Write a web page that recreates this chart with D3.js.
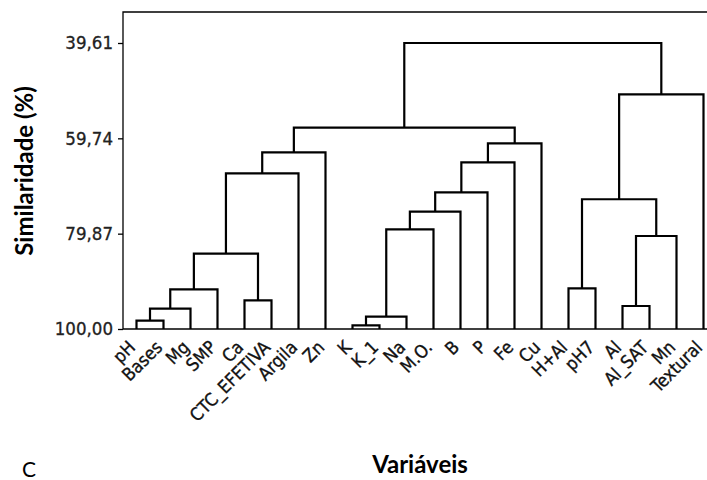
<!DOCTYPE html>
<html>
<head>
<meta charset="utf-8">
<script src="https://cdn.jsdelivr.net/npm/d3@7"></script>
<style>
  body { margin: 0; background: #fff; }
  svg { display: block; }
</style>
</head>
<body>
<div id="chart"></div>
<script>
// leaves of the dendrogram, left to right
const variables = ["pH", "Bases", "Mg", "SMP", "Ca", "CTC_EFETIVA", "Argila", "Zn",
  "K", "K_1", "Na", "M.O.", "B", "P", "Fe", "Cu",
  "H+Al", "pH7", "Al", "Al_SAT", "Mn", "Textural"];

// merge steps: [node a, node b, similarity %]; node ids >= 22 are earlier merges (22 + step)
const merges = [
  [8, 9, 99.22],    // 22
  [0, 1, 98.25],    // 23
  [22, 10, 97.40],  // 24
  [23, 2, 95.71],   // 25
  [18, 19, 95.14],  // 26
  [4, 5, 93.94],    // 27
  [25, 3, 91.62],   // 28
  [16, 17, 91.41],  // 29
  [28, 27, 84.10],  // 30
  [26, 20, 80.36],  // 31
  [24, 11, 78.95],  // 32
  [32, 12, 75.23],  // 33
  [29, 31, 72.60],  // 34
  [33, 13, 71.14],  // 35
  [30, 6, 67.13],   // 36
  [35, 14, 64.80],  // 37
  [36, 7, 62.70],   // 38
  [37, 15, 60.79],  // 39
  [38, 39, 57.49],  // 40
  [34, 21, 50.45],  // 41
  [40, 41, 39.61]   // 42
];

const yTicks = [39.61, 59.74, 79.87, 100.00];

const width = 707, height = 480;
// plot frame
const frame = { left: 123, top: 12, right: 717, bottom: 329 };

const svg = d3.select("#chart").append("svg")
  .attr("width", width)
  .attr("height", height);

const x = d3.scalePoint()
  .domain(variables)
  .range([frame.left, frame.right])
  .padding(0.5);

const y = d3.scaleLinear()
  .domain([100, 39.61])
  .range([frame.bottom, 43]);

// node positions
const nodes = variables.map(v => ({ x: x(v), sim: 100 }));
merges.forEach(([a, b, s]) => {
  nodes.push({ x: (nodes[a].x + nodes[b].x) / 2, sim: s });
});

// frame (right side falls outside the picture)
svg.append("path")
  .attr("d", `M${frame.left},${frame.bottom}V${frame.top}H${frame.right}`)
  .attr("fill", "none")
  .attr("stroke", "#000")
  .attr("stroke-width", 1.3);

svg.append("line")
  .attr("x1", frame.left).attr("x2", frame.right)
  .attr("y1", frame.bottom).attr("y2", frame.bottom)
  .attr("stroke", "#000")
  .attr("stroke-width", 1.6);

// y axis
const yAxis = svg.append("g")
  .attr("transform", `translate(${frame.left},0)`)
  .call(d3.axisLeft(y)
    .tickValues(yTicks)
    .tickSize(5)
    .tickPadding(5)
    .tickFormat(d => d3.format(".2f")(d).replace(".", ",")));
yAxis.select(".domain").remove();
yAxis.selectAll(".tick line").attr("stroke-width", 1.3);
yAxis.selectAll(".tick text")
  .attr("fill", "#222")
  .attr("stroke", "#222")
  .attr("stroke-width", 0.3)
  .style("font", "18.5px 'DejaVu Sans Condensed', 'DejaVu Sans', sans-serif");

// dendrogram links
svg.append("g")
  .selectAll("path")
  .data(merges)
  .join("path")
  .attr("d", ([a, b, s]) => {
    const na = nodes[a], nb = nodes[b];
    return `M${na.x},${y(na.sim)}V${y(s)}H${nb.x}V${y(nb.sim)}`;
  })
  .attr("fill", "none")
  .attr("stroke", "#000")
  .attr("stroke-width", 2.2)
  .attr("stroke-linejoin", "miter");

// leaf labels, slanted 45 degrees
svg.append("g")
  .selectAll("text")
  .data(variables)
  .join("text")
  .attr("transform", d => `translate(${x(d) - 4.5},${frame.bottom + 15}) rotate(-45)`)
  .attr("text-anchor", "end")
  .attr("dy", "0.35em")
  .attr("fill", "#111")
  .attr("stroke", "#111")
  .attr("stroke-width", 0.35)
  .style("font", "18px 'DejaVu Sans Condensed', 'DejaVu Sans', sans-serif")
  .text(d => d);

// axis titles
svg.append("text")
  .attr("transform", "translate(33,171) rotate(-90)")
  .attr("text-anchor", "middle")
  .style("font", "bold 24px Lato, sans-serif")
  .text("Similaridade (%)");

svg.append("text")
  .attr("x", 420).attr("y", 473)
  .attr("text-anchor", "middle")
  .style("font", "bold 24px Lato, sans-serif")
  .text("Variáveis");

svg.append("text")
  .attr("x", 22).attr("y", 477)
  .style("font", "21px Lato, sans-serif")
  .text("C");
</script>
</body>
</html>
